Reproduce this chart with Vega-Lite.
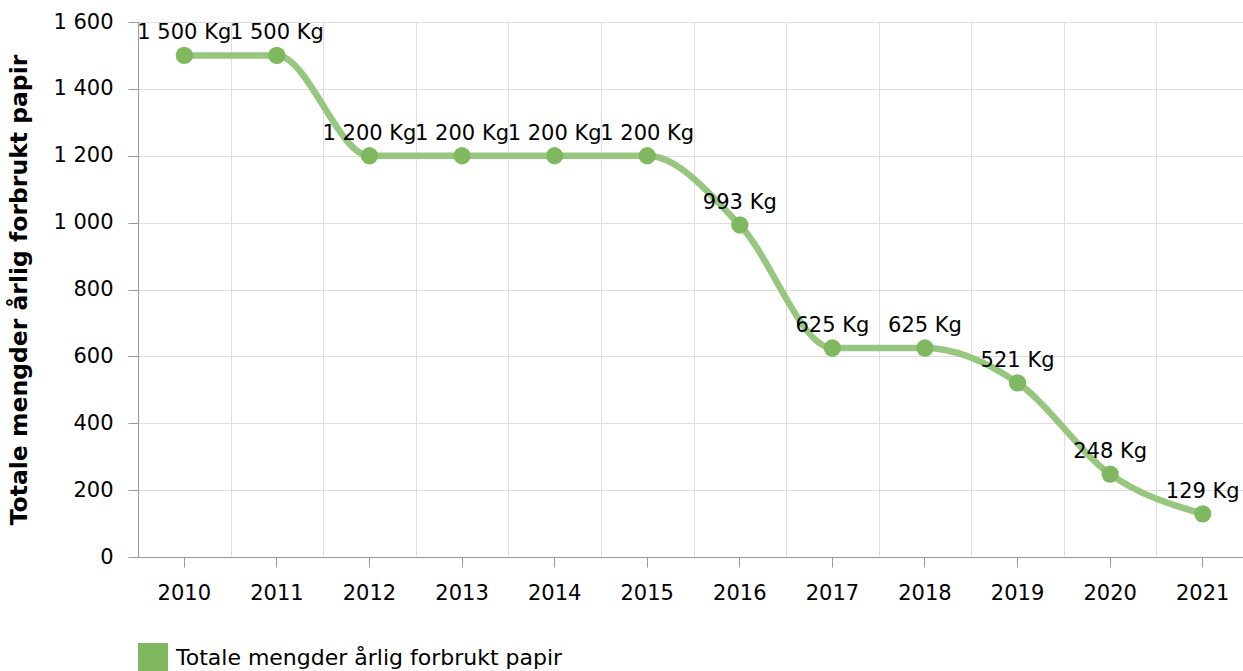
{
  "$schema": "https://vega.github.io/schema/vega-lite/v6.json",
  "width": 1111,
  "height": 535,
  "autosize": {"type": "none"},
  "padding": {"left": 138, "top": 22, "right": 0, "bottom": 114},
  "background": "white",
  "config": {
    "locale": {"number": {"decimal": ",", "thousands": " ", "grouping": [3], "currency": ["", " kr"]}},
    "font": "DejaVu Sans",
    "view": {"stroke": null}
  },
  "data": {
    "values": [
      {"year": "2010", "kg": 1500},
      {"year": "2011", "kg": 1500},
      {"year": "2012", "kg": 1200},
      {"year": "2013", "kg": 1200},
      {"year": "2014", "kg": 1200},
      {"year": "2015", "kg": 1200},
      {"year": "2016", "kg": 993},
      {"year": "2017", "kg": 625},
      {"year": "2018", "kg": 625},
      {"year": "2019", "kg": 521},
      {"year": "2020", "kg": 248},
      {"year": "2021", "kg": 129}
    ]
  },
  "transform": [{"calculate": "format(datum.kg, ',d') + ' Kg'", "as": "label"}],
  "layer": [
    {
      "mark": {"type": "line", "interpolate": "monotone", "strokeWidth": 6.5, "color": "#97c77f"},
      "encoding": {
        "x": {
          "field": "year", "type": "ordinal",
          "scale": {"type": "band", "paddingInner": 0, "paddingOuter": 0},
          "axis": {"orient": "bottom", "grid": true, "tickBand": "extent", "ticks": false, "labels": false, "domain": false, "title": null, "gridColor": "#dedede", "gridWidth": 1}
        },
        "y": {
          "field": "kg", "type": "quantitative",
          "scale": {"domain": [0, 1600], "nice": false},
          "axis": {
            "values": [0, 200, 400, 600, 800, 1000, 1200, 1400, 1600],
            "format": ",d",
            "title": "Totale mengder årlig forbrukt papir",
            "titleFontSize": 23.5,
            "titleFontWeight": "bold",
            "titleColor": "#000",
            "titlePadding": 21,
            "labelFontSize": 21,
            "labelColor": "#000",
            "labelPadding": 15,
            "tickSize": 10,
            "tickColor": "#999",
            "domainColor": "#999",
            "gridColor": "#dedede"
          }
        }
      }
    },
    {
      "mark": {"type": "point", "filled": true, "size": 300, "opacity": 1},
      "encoding": {
        "x": {
          "field": "year", "type": "ordinal",
          "axis": {"orient": "bottom", "grid": false, "title": null, "labelAngle": 0, "labelFontSize": 21, "labelColor": "#000", "labelPadding": 15, "tickSize": 10, "tickColor": "#999", "domainColor": "#999"}
        },
        "y": {"field": "kg", "type": "quantitative"},
        "color": {
          "datum": "Totale mengder årlig forbrukt papir",
          "type": "nominal",
          "scale": {"range": ["#7fb85f"]},
          "legend": {
            "title": null,
            "orient": "none",
            "legendX": 0,
            "legendY": 621,
            "padding": 0,
            "symbolType": "square",
            "symbolSize": 900,
            "symbolStrokeWidth": 0,
            "symbolOpacity": 1,
            "labelFontSize": 22,
            "labelColor": "#000",
            "labelOffset": 8,
            "labelLimit": 600
          }
        }
      }
    },
    {
      "mark": {"type": "text", "baseline": "alphabetic", "dy": -16, "fontSize": 21, "color": "#000"},
      "encoding": {
        "x": {"field": "year", "type": "ordinal", "axis": null},
        "y": {"field": "kg", "type": "quantitative"},
        "text": {"field": "label"}
      }
    }
  ],
  "resolve": {"axis": {"x": "independent"}}
}
